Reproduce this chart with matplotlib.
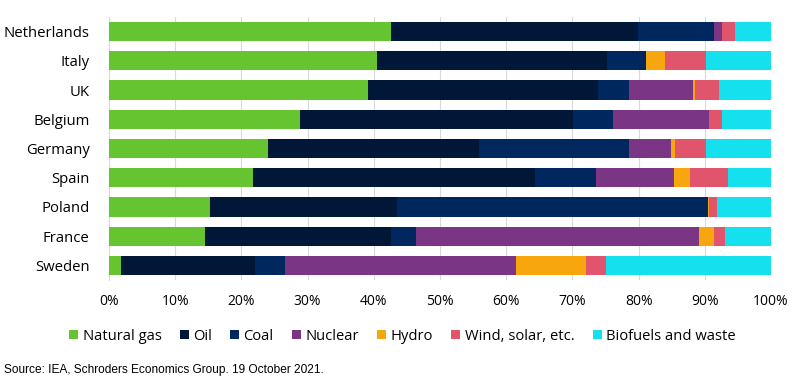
import matplotlib.pyplot as plt
import numpy as np

plt.rcParams['font.family'] = ['Open Sans', 'DejaVu Sans']

countries = ['Netherlands', 'Italy', 'UK', 'Belgium', 'Germany',
             'Spain', 'Poland', 'France', 'Sweden']
sources = ['Natural gas', 'Oil', 'Coal', 'Nuclear', 'Hydro',
           'Wind, solar, etc.', 'Biofuels and waste']
colors = ['#66C430', '#001737', '#00285E', '#7B3585', '#F8A60E',
          '#E0546C', '#15E1EE']

# shares in % of total energy supply
natural_gas = [42.6, 40.5, 39.1, 28.9, 24.0, 21.7, 15.3, 14.5, 1.8]
oil = [37.3, 34.7, 34.8, 41.2, 31.9, 42.7, 28.2, 28.1, 20.3]
coal = [11.5, 5.9, 4.6, 6.0, 22.6, 9.2, 47.0, 3.8, 4.5]
nuclear = [1.2, 0.0, 9.7, 14.5, 6.4, 11.7, 0.0, 42.7, 34.9]
hydro = [0.0, 2.9, 0.3, 0.1, 0.6, 2.5, 0.2, 2.3, 10.6]
wind_solar = [2.0, 6.2, 3.6, 1.9, 4.7, 5.7, 1.1, 1.6, 2.9]
biofuels = [5.4, 9.8, 7.9, 7.4, 9.8, 6.5, 8.2, 7.0, 25.0]

data = [natural_gas, oil, coal, nuclear, hydro, wind_solar, biofuels]

fig = plt.figure(figsize=(8, 3.84), dpi=100)
ax = fig.add_axes([109/800, 1-280/384, 662/800, 263/384])

y = np.arange(len(countries))
left = np.zeros(len(countries))
for vals, name, col in zip(data, sources, colors):
    vals = np.array(vals)
    ax.barh(y, vals, left=left, height=0.66, color=col, label=name, zorder=3)
    left += vals

ax.set_ylim(len(countries) - 0.5, -0.5)
ax.set_xlim(0, 100)
ax.set_xticks(np.arange(0, 101, 10))
ax.set_xticklabels([f'{v}%' for v in range(0, 101, 10)], fontsize=10)
ax.set_yticks(y)
ax.set_yticklabels(countries, fontsize=10.7)
ax.tick_params(length=0)
ax.tick_params(axis='y', pad=14)
ax.tick_params(axis='x', pad=10)
ax.grid(axis='x', color='#D9D9D9', linewidth=0.8, zorder=0)
for s in ['top', 'right', 'bottom']:
    ax.spines[s].set_visible(False)
ax.spines['left'].set_color('#D9D9D9')

handles, labels = ax.get_legend_handles_labels()
fig.legend(handles, labels, loc='center', bbox_to_anchor=(0.503, 1-336/384),
           ncol=7, frameon=False, fontsize=10.6, handlelength=0.6,
           handleheight=0.6, handletextpad=0.3, columnspacing=1.25)

fig.text(0.005, 1-370/384, 'Source: IEA, Schroders Economics Group. 19 October 2021.',
         fontsize=8.6, family=['Liberation Sans'], va='center')

fig.savefig('out.png', dpi=100)
